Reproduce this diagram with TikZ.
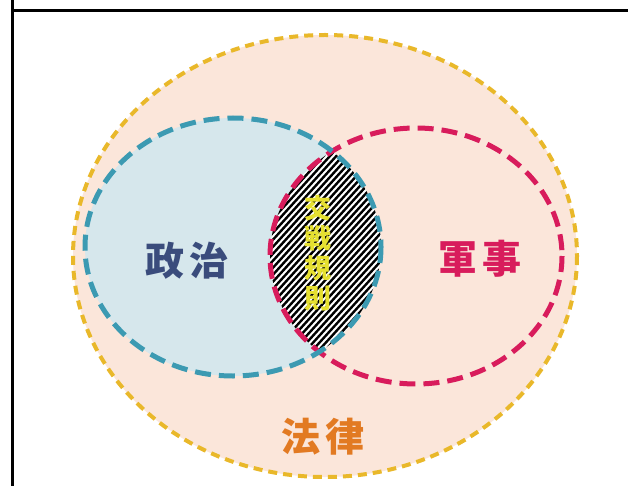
\documentclass[tikz,border=0pt]{standalone}
\usepackage{fontspec}
\newfontfamily\cjk{Noto Sans CJK JP}
\definecolor{peach}{HTML}{FBE6DA}
\definecolor{ltblue}{HTML}{D6E7EC}
\definecolor{ygold}{HTML}{E9B82A}
\definecolor{tblue}{HTML}{3C9AB2}
\definecolor{crim}{HTML}{D81C5C}
\definecolor{navy}{HTML}{3A4C7C}
\definecolor{orng}{HTML}{E27A22}
\definecolor{yel}{HTML}{E6E030}
\tikzset{
  lbl/.style={font=\cjk\bfseries\fontsize{39}{39}\selectfont, inner sep=0pt},
  frameline/.style={line width=3pt, black},
  ydash/.style={draw=ygold, line width=4pt, dash pattern=on 9pt off 6pt},
  bdash/.style={draw=tblue, line width=5pt, dash pattern=on 16pt off 8pt},
  rdash/.style={draw=crim, line width=5pt, dash pattern=on 16pt off 8pt},
}
\begin{document}
\begin{tikzpicture}[x=1pt,y=-1pt]
\useasboundingbox (0,0) rectangle (628,486);
\fill[white] (0,0) rectangle (628,486);
% frame
\coordinate (fl0) at (12,0);
\coordinate (fl1) at (12,486);
\coordinate (ft0) at (12,11);
\coordinate (ft1) at (628,11);
\draw[frameline] (fl0) -- (fl1);
\draw[frameline] (ft0) -- (ft1);
% outer ellipse
\fill[peach] (325,256) ellipse [x radius=252, y radius=221];
% blue circle fill
\fill[ltblue] (233,247) ellipse [x radius=148, y radius=129];
% lens hatching
\begin{scope}
  \clip (233,247) ellipse [x radius=148, y radius=129];
  \clip (416,256) ellipse [x radius=146, y radius=128];
  \fill[white] (250,100) rectangle (400,420);
  \foreach \k in {-60,...,20} {
    \draw[black, line width=2.4pt] (250,{300+7*\k}) -- ++(200,-220);
  }
\end{scope}
\draw[ydash] (325,256) ellipse [x radius=252, y radius=221];
\draw[rdash] (416,256) ellipse [x radius=146, y radius=128];
\draw[bdash] (233,247) ellipse [x radius=148, y radius=129];
% labels
\node[lbl, text=navy] (pol) at (187,261) {政\hspace{6pt}治};
\node[lbl, text=crim] (mil) at (480,259) {軍\hspace{6pt}事};
\node[lbl, text=orng] (law) at (323,437) {法\hspace{6pt}律};
\node[font=\cjk\bfseries\fontsize{27}{30}\selectfont, text=yel, align=center, inner sep=0pt] (roe) at (318,253) {交\\戦\\規\\則};
\end{tikzpicture}
\end{document}
